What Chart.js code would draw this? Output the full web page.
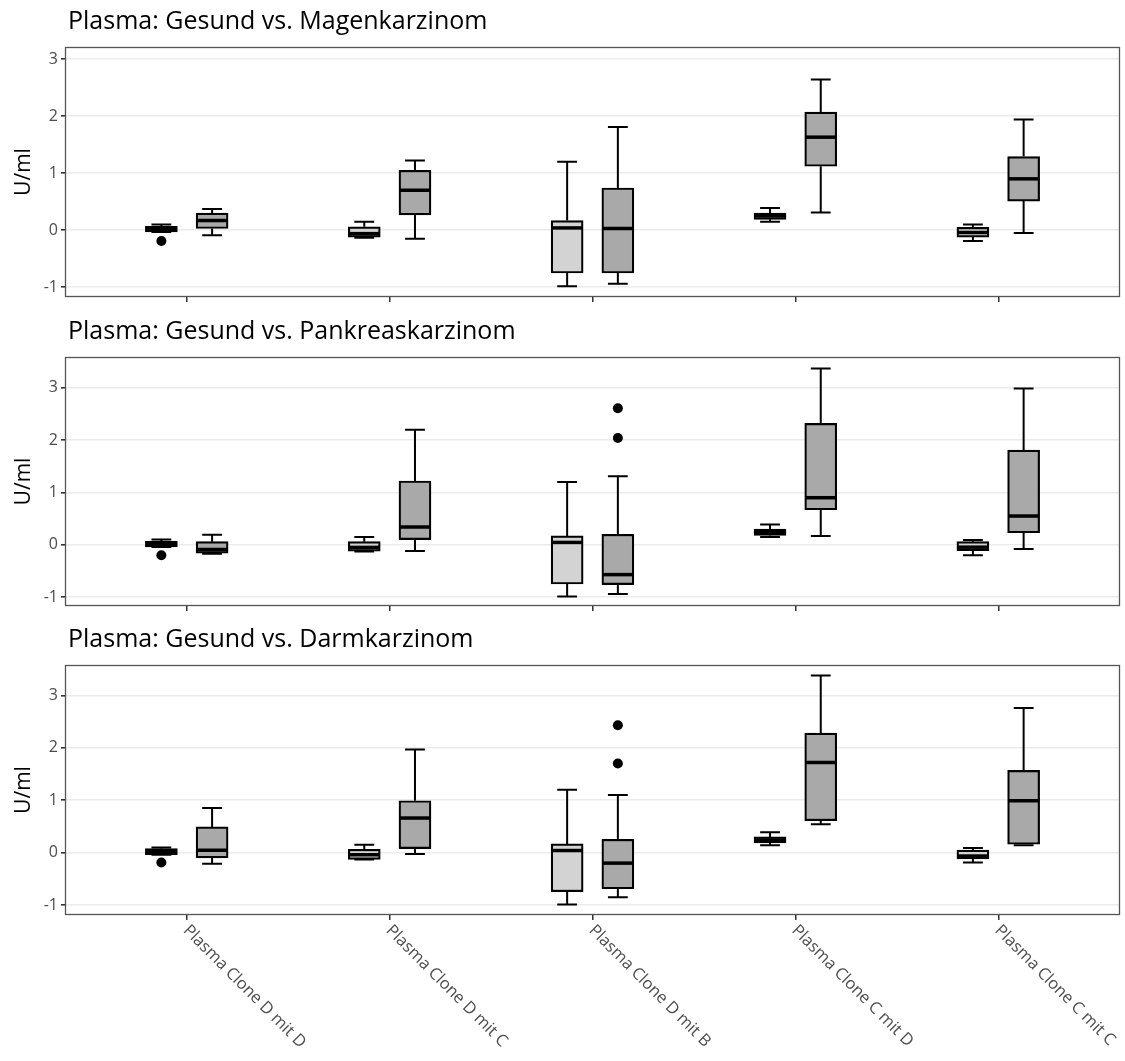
<!DOCTYPE html>
<html>
<head>
<meta charset="utf-8">
<script src="https://cdn.jsdelivr.net/npm/chart.js@4.4.1/dist/chart.umd.min.js"></script>
<style>
  body { margin: 0; background: #fff; }
  canvas { display: block; }
</style>
</head>
<body>
<canvas id="p1" width="1125" height="310"></canvas>
<canvas id="p2" width="1125" height="310"></canvas>
<canvas id="p3" width="1125" height="441"></canvas>
<script>
const categories = ['Plasma Clone D mit D', 'Plasma Clone D mit C', 'Plasma Clone D mit B', 'Plasma Clone C mit D', 'Plasma Clone C mit C'];
const yTicks = [-1, 0, 1, 2, 3];

// each entry: [lower whisker, q1, median, q3, upper whisker]
const magenGesund = [[-0.03, -0.03, 0.01, 0.07, 0.10], [-0.13, -0.12, -0.06, 0.06, 0.15], [-0.98, -0.75, 0.04, 0.17, 1.20], [0.15, 0.19, 0.25, 0.30, 0.39], [-0.19, -0.12, -0.04, 0.05, 0.10]];
const magenKrank = [[-0.09, 0.03, 0.17, 0.30, 0.37], [-0.15, 0.27, 0.70, 1.05, 1.22], [-0.94, -0.75, 0.03, 0.74, 1.81], [0.31, 1.12, 1.63, 2.07, 2.64], [-0.05, 0.51, 0.90, 1.29, 1.94]];
const magenGesundOut = [[-0.19], [], [], [], []];
const magenKrankOut = [[], [], [], [], []];

const pankreasGesund = [[-0.04, -0.04, 0.01, 0.07, 0.10], [-0.13, -0.12, -0.05, 0.06, 0.15], [-0.99, -0.75, 0.045, 0.17, 1.20], [0.15, 0.18, 0.24, 0.30, 0.39], [-0.20, -0.11, -0.045, 0.06, 0.09]];
const pankreasKrank = [[-0.17, -0.16, -0.09, 0.06, 0.19], [-0.12, 0.10, 0.34, 1.22, 2.20], [-0.94, -0.76, -0.57, 0.20, 1.31], [0.17, 0.67, 0.90, 2.32, 3.37], [-0.08, 0.23, 0.55, 1.81, 2.99]];
const pankreasGesundOut = [[-0.20], [], [], [], []];
const pankreasKrankOut = [[], [], [2.04, 2.61], [], []];

const darmGesund = [[-0.04, -0.04, 0.02, 0.076, 0.10], [-0.13, -0.13, -0.04, 0.064, 0.15], [-0.99, -0.745, 0.04, 0.166, 1.20], [0.14, 0.185, 0.24, 0.30, 0.39], [-0.19, -0.12, -0.065, 0.05, 0.09]];
const darmKrank = [[-0.21, -0.10, 0.045, 0.49, 0.85], [-0.025, 0.076, 0.66, 0.99, 1.97], [-0.85, -0.69, -0.20, 0.255, 1.10], [0.54, 0.61, 1.72, 2.28, 3.38], [0.14, 0.16, 0.99, 1.57, 2.76]];
const darmGesundOut = [[-0.19], [], [], [], []];
const darmKrankOut = [[], [], [1.70, 2.43], [], []];

const FONT = "'Open Sans', sans-serif";

const boxDataset = (stats, offset, color) => ({
    type: 'bar',
    stats: stats,
    grouped: false,
    data: stats.map((s, i) => ({ x: i + 1 + offset, y: [s[1], s[3]] })),
    backgroundColor: color,
    borderColor: '#000',
    borderWidth: 2.2,
    borderSkipped: false,
    barThickness: 32,
    order: 2
});

const outlierDataset = (out, offset) => {
    const pts = [];
    out.forEach((vals, i) => vals.forEach(v => pts.push({ x: i + 1 + offset, y: v })));
    return { type: 'scatter', data: pts, pointRadius: 5, backgroundColor: '#000', borderWidth: 0, order: 1 };
};

// whiskers go under the boxes, medians on top
const drawBoxParts = (chart, part) => {
    const { ctx } = chart;
    const y = chart.scales.y;
    chart.data.datasets.forEach((ds, di) => {
        if (!ds.stats) return;
        chart.getDatasetMeta(di).data.forEach((bar, i) => {
            const s = ds.stats[i];
            const { x, width } = bar.getProps(['x', 'width'], true);
            ctx.save();
            ctx.strokeStyle = '#000';
            ctx.beginPath();
            if (part === 'whisker') {
                ctx.lineWidth = 2;
                ctx.moveTo(x, y.getPixelForValue(s[0]));
                ctx.lineTo(x, y.getPixelForValue(s[1]));
                ctx.moveTo(x, y.getPixelForValue(s[3]));
                ctx.lineTo(x, y.getPixelForValue(s[4]));
                const cap = width * 0.31;
                [s[0], s[4]].forEach(v => {
                    const py = y.getPixelForValue(v);
                    ctx.moveTo(x - cap, py);
                    ctx.lineTo(x + cap, py);
                });
            } else {
                ctx.lineWidth = 3.5;
                const py = y.getPixelForValue(s[2]);
                ctx.moveTo(x - width / 2 + 1, py);
                ctx.lineTo(x + width / 2 - 1, py);
            }
            ctx.stroke();
            ctx.restore();
        });
    });
};

const boxPlugin = {
    id: 'boxes',
    beforeDatasetsDraw(chart) { drawBoxParts(chart, 'whisker'); },
    afterDatasetsDraw(chart) { drawBoxParts(chart, 'median'); },
    afterDraw(chart, args, opts) {
        const { ctx, chartArea: a } = chart;
        ctx.save();
        ctx.strokeStyle = '#555';
        ctx.lineWidth = 1.3;
        ctx.strokeRect(a.left + 0.5, a.top + 0.5, a.right - a.left - 1, a.bottom - a.top - 1);

        ctx.fillStyle = '#000';
        ctx.font = '25px ' + FONT;
        ctx.textAlign = 'left';
        ctx.textBaseline = 'alphabetic';
        ctx.fillText(opts.title, a.left + 3, opts.titleY);

        if (opts.xLabels) {
            const xs = chart.scales.x;
            ctx.fillStyle = '#4d4d4d';
            ctx.font = '16.5px ' + FONT;
            ctx.textBaseline = 'middle';
            categories.forEach((c, i) => {
                ctx.save();
                ctx.translate(xs.getPixelForValue(i + 1) - 1, a.bottom + 13);
                ctx.rotate(Math.PI / 4);
                ctx.fillText(c, 0, 0);
                ctx.restore();
            });
        }
        ctx.restore();
    }
};

const makePanel = (id, title, gesund, krank, gesundOut, krankOut, yMin, yMax, padTop, xHeight, titleY, xLabels) => {
    new Chart(document.getElementById(id), {
        type: 'bar',
        data: {
            datasets: [
                boxDataset(gesund, -0.125, '#d3d3d3'),
                boxDataset(krank, 0.125, '#a9a9a9'),
                outlierDataset(gesundOut, -0.125),
                outlierDataset(krankOut, 0.125)
            ]
        },
        plugins: [boxPlugin],
        options: {
            responsive: false,
            animation: false,
            layout: { padding: { top: padTop, right: 5, left: 0, bottom: 0 } },
            plugins: {
                legend: { display: false },
                tooltip: { enabled: false },
                boxes: { title: title, titleY: titleY, xLabels: xLabels }
            },
            scales: {
                x: {
                    type: 'linear',
                    min: 0.4,
                    max: 5.6,
                    offset: false,
                    afterBuildTicks: s => { s.ticks = categories.map((c, i) => ({ value: i + 1 })); },
                    afterFit: s => { s.height = xHeight; },
                    ticks: { display: false },
                    grid: { display: true, offset: false, drawOnChartArea: false, drawTicks: true, tickLength: 5, tickColor: '#333', lineWidth: 1.5 },
                    border: { display: false }
                },
                y: {
                    min: yMin,
                    max: yMax,
                    afterBuildTicks: s => { s.ticks = yTicks.map(v => ({ value: v })); },
                    afterFit: s => { s.width = 65; },
                    ticks: { color: '#4d4d4d', font: { family: FONT, size: 16 }, padding: 3 },
                    grid: { color: '#ebebeb', lineWidth: 1.6, tickColor: '#333', tickLength: 4 },
                    border: { display: false },
                    title: { display: true, text: 'U/ml', color: '#000', font: { family: FONT, size: 21 }, padding: { top: 11, bottom: 0 } }
                }
            }
        }
    });
};

makePanel('p1', 'Plasma: Gesund vs. Magenkarzinom', magenGesund, magenKrank, magenGesundOut, magenKrankOut, -1.17, 3.21, 47, 13, 29, false);
makePanel('p2', 'Plasma: Gesund vs. Pankreaskarzinom', pankreasGesund, pankreasKrank, pankreasGesundOut, pankreasKrankOut, -1.17, 3.59, 47, 14, 29, false);
makePanel('p3', 'Plasma: Gesund vs. Darmkarzinom', darmGesund, darmKrank, darmGesundOut, darmKrankOut, -1.19, 3.58, 45, 146, 27, true);
</script>
</body>
</html>
